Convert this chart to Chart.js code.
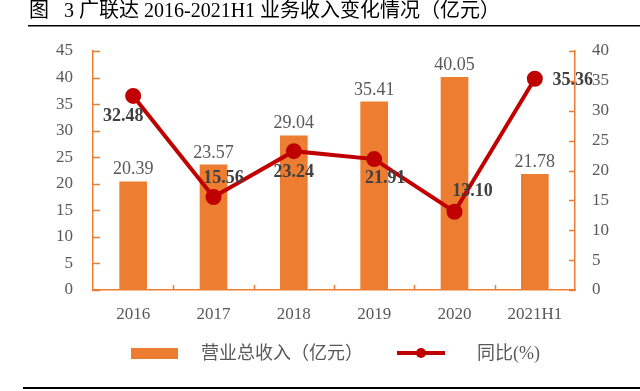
<!DOCTYPE html>
<html>
<head>
<meta charset="utf-8">
<script src="https://cdn.jsdelivr.net/npm/chart.js@4"></script>
<style>
  html, body { margin: 0; padding: 0; background: #fff; }
  #wrap { width: 640px; height: 391px; position: relative; }
</style>
</head>
<body>
<div id="wrap"><canvas id="chart" width="640" height="391"></canvas></div>
<script>
const years = ['2016', '2017', '2018', '2019', '2020', '2021H1'];
const revenue = [20.39, 23.57, 29.04, 35.41, 40.05, 21.78];
const growth = [32.48, 15.56, 23.24, 21.91, 13.10, 35.36];
const revenueName = '营业总收入（亿元）';
const growthName = '同比(%)';
const titleText = '图   3 广联达 2016-2021H1 业务收入变化情况（亿元）';

// label offsets for the growth line (px from point)
const growthLabelOffset = [[-10, 20], [10, -19], [0, 21], [11, 19], [18, -20], [38, 2]];

const ORANGE = '#ED7D31';
const RED = '#C00000';
const GREY = '#595959';
const SERIF = "'Liberation Serif', 'Noto Sans CJK SC', serif";

const extras = {
  id: 'extras',
  afterDraw(chart) {
    const ctx = chart.ctx;
    const { x, y, y1 } = chart.scales;
    const area = chart.chartArea;
    ctx.save();

    // inward tick marks
    ctx.strokeStyle = ORANGE;
    ctx.lineWidth = 1.5;
    ctx.beginPath();
    for (let v = 0; v <= 45; v += 5) {
      const py = Math.round(y.getPixelForValue(v)) + 0.5;
      ctx.moveTo(area.left, py);
      ctx.lineTo(area.left + 7, py);
    }
    for (let v = 0; v <= 40; v += 5) {
      const py = Math.round(y1.getPixelForValue(v)) + 0.5;
      ctx.moveTo(area.right, py);
      ctx.lineTo(area.right - 6, py);
    }
    const step = (area.right - area.left) / years.length;
    for (let i = 1; i < years.length; i++) {
      const px = Math.round(area.left + step * i) + 0.5;
      ctx.moveTo(px, area.bottom);
      ctx.lineTo(px, area.bottom - 5);
    }
    ctx.stroke();

    // value labels
    ctx.font = '18px ' + SERIF;
    ctx.fillStyle = GREY;
    ctx.textAlign = 'center';
    ctx.textBaseline = 'bottom';
    chart.getDatasetMeta(0).data.forEach((bar, i) => {
      ctx.fillText(revenue[i].toFixed(2), bar.x, bar.y - 3);
    });
    ctx.font = 'bold 18px ' + SERIF;
    ctx.fillStyle = '#404040';
    ctx.textBaseline = 'middle';
    chart.getDatasetMeta(1).data.forEach((pt, i) => {
      const [dx, dy] = growthLabelOffset[i];
      ctx.fillText(growth[i].toFixed(2), pt.x + dx, pt.y + dy);
    });

    // title and rules
    ctx.fillStyle = '#000';
    ctx.textAlign = 'left';
    ctx.font = '20px ' + SERIF;
    ctx.fillText(titleText, 29, 12);
    ctx.fillStyle = '#000';
    ctx.fillRect(28, 25, 612, 1.5);
    ctx.fillRect(23, 387, 617, 2);

    // legend
    ctx.fillStyle = ORANGE;
    ctx.fillRect(131, 348, 47, 11);
    ctx.fillStyle = GREY;
    ctx.font = '18px ' + SERIF;
    ctx.fillText(revenueName, 201, 354);
    ctx.strokeStyle = RED;
    ctx.lineWidth = 4;
    ctx.beginPath();
    ctx.moveTo(397, 353);
    ctx.lineTo(445, 353);
    ctx.stroke();
    ctx.fillStyle = RED;
    ctx.beginPath();
    ctx.arc(421, 353, 5, 0, Math.PI * 2);
    ctx.fill();
    ctx.fillStyle = GREY;
    ctx.fillText(growthName, 477, 354);

    ctx.restore();
  }
};

new Chart(document.getElementById('chart'), {
  type: 'bar',
  data: {
    labels: years,
    datasets: [
      {
        type: 'bar',
        label: revenueName,
        data: revenue,
        yAxisID: 'y',
        backgroundColor: ORANGE,
        barThickness: 27,
        order: 2
      },
      {
        type: 'line',
        label: growthName,
        data: growth,
        yAxisID: 'y1',
        borderColor: RED,
        backgroundColor: RED,
        borderWidth: 4,
        pointRadius: 6,
        pointHoverRadius: 6,
        tension: 0,
        order: 1
      }
    ]
  },
  options: {
    responsive: false,
    animation: false,
    layout: { padding: { top: 51, left: 0, right: 0, bottom: 0 } },
    plugins: { legend: { display: false }, tooltip: { enabled: false } },
    scales: {
      x: {
        grid: { drawOnChartArea: false, drawTicks: false },
        border: { color: ORANGE, width: 1.5 },
        ticks: { color: GREY, font: { family: SERIF, size: 17 }, padding: 14 },
        afterFit: s => { s.height = 101; }
      },
      y: {
        position: 'left',
        min: 0, max: 45,
        grid: { drawOnChartArea: false, drawTicks: false },
        border: { color: ORANGE, width: 1.5 },
        ticks: { stepSize: 5, color: GREY, font: { family: SERIF, size: 17 }, padding: 20 },
        afterFit: s => { s.width = 93; }
      },
      y1: {
        position: 'right',
        min: 0, max: 40,
        grid: { drawOnChartArea: false, drawTicks: false },
        border: { color: ORANGE, width: 1.5 },
        ticks: { stepSize: 5, color: GREY, font: { family: SERIF, size: 17 }, padding: 17 },
        afterFit: s => { s.width = 65; }
      }
    }
  },
  plugins: [extras]
});
</script>
</body>
</html>
